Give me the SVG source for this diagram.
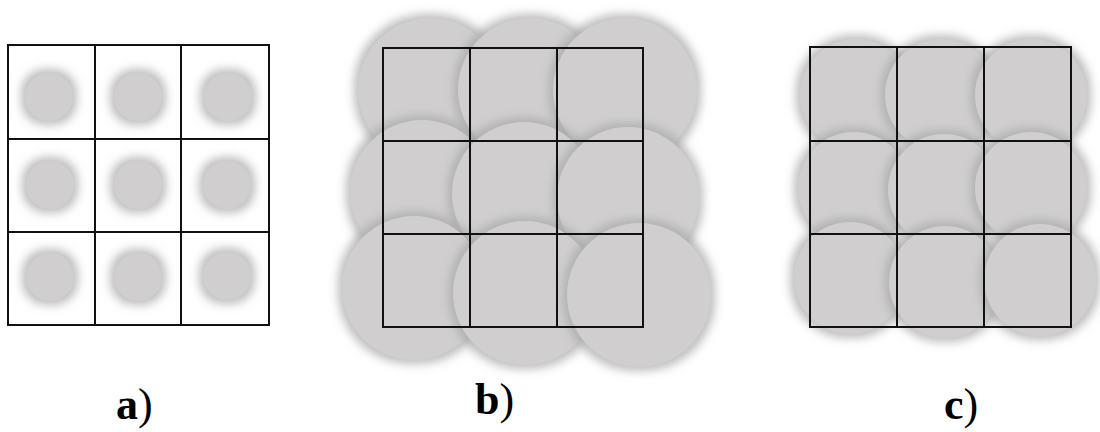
<svg xmlns="http://www.w3.org/2000/svg" width="1100" height="432" viewBox="0 0 1100 432">
<style>
.c{fill:#d0cecf;filter:url(#sh)}
.g{fill:none;stroke:#111;stroke-width:2}
.lab{font-family:"Liberation Serif",serif;font-size:44px;font-weight:bold;fill:#000}
.p{font-weight:normal}
</style>
<defs>
<filter id="sh" x="-50%" y="-50%" width="200%" height="200%">
<feMorphology in="SourceAlpha" operator="dilate" radius="4" result="d"/>
<feGaussianBlur in="d" stdDeviation="5" result="b"/>
<feFlood flood-color="#a8a8a8" flood-opacity="0.75"/>
<feComposite in2="b" operator="in" result="s"/>
<feMerge><feMergeNode in="s"/><feMergeNode in="SourceGraphic"/></feMerge>
</filter>
</defs>
<rect width="1100" height="432" fill="#fff"/>
<g id="panel-a">
<circle class="c" cx="49" cy="97" r="24"/>
<circle class="c" cx="138" cy="97" r="24"/>
<circle class="c" cx="228" cy="97" r="24"/>
<circle class="c" cx="50" cy="185" r="24"/>
<circle class="c" cx="138" cy="185" r="24"/>
<circle class="c" cx="227" cy="185" r="24"/>
<circle class="c" cx="50" cy="277" r="24"/>
<circle class="c" cx="138" cy="277" r="24"/>
<circle class="c" cx="227" cy="276" r="24"/>
<path class="g" d="M8 45H269V325H8Z M95 45V325 M181 45V325 M8 139H269 M8 232H269"/>
<text class="lab" x="116" y="419">a<tspan class="p">)</tspan></text>
</g>
<g id="panel-b">
<circle class="c" cx="430" cy="90" r="72"/>
<circle class="c" cx="530" cy="90" r="72"/>
<circle class="c" cx="625" cy="90" r="72"/>
<circle class="c" cx="422" cy="192" r="72"/>
<circle class="c" cx="524" cy="194" r="72"/>
<circle class="c" cx="628" cy="198" r="71"/>
<circle class="c" cx="414" cy="288" r="72"/>
<circle class="c" cx="525" cy="293" r="72"/>
<circle class="c" cx="639" cy="295" r="72"/>
<path class="g" d="M383 48H643V327H383Z M470 48V327 M557 48V327 M383 141H643 M383 234H643"/>
<text class="lab" x="475" y="414">b<tspan class="p">)</tspan></text>
</g>
<g id="panel-c">
<circle class="c" cx="856" cy="95" r="56"/>
<circle class="c" cx="941" cy="95" r="56"/>
<circle class="c" cx="1031" cy="95" r="56"/>
<circle class="c" cx="854" cy="188" r="56"/>
<circle class="c" cx="944" cy="190" r="56"/>
<circle class="c" cx="1031" cy="188" r="56"/>
<circle class="c" cx="850" cy="278" r="56"/>
<circle class="c" cx="945" cy="282" r="56"/>
<circle class="c" cx="1040" cy="280" r="56"/>
<path class="g" d="M810 47H1071V327H810Z M897 47V327 M984 47V327 M810 141H1071 M810 234H1071"/>
<text class="lab" x="944" y="419">c<tspan class="p">)</tspan></text>
</g>
</svg>
